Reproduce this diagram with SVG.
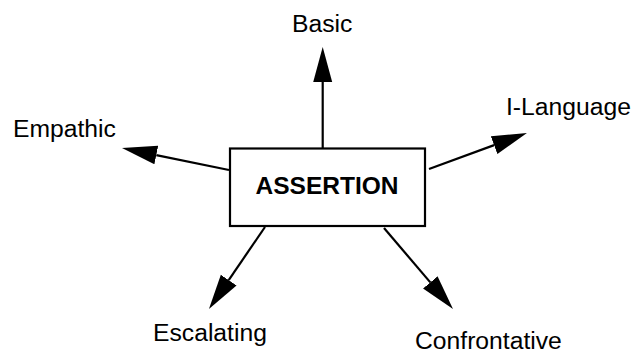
<svg xmlns="http://www.w3.org/2000/svg" width="633" height="352" viewBox="0 0 633 352">
<defs>
<marker id="ah" markerUnits="userSpaceOnUse" markerWidth="36" markerHeight="20" viewBox="0 -10 36 20" refX="0" refY="0" orient="auto">
<path d="M0,-9.5 L35,0 L0,9.5 Z" fill="#000"/>
</marker>
</defs>
<style>
.lbl{font-family:"Liberation Sans",Arial,sans-serif;font-size:24.7px;fill:#000}
.main{font-family:"Liberation Sans",Arial,sans-serif;font-size:24.5px;font-weight:bold;fill:#000}
.edge{stroke:#000;stroke-width:2.2;fill:none;marker-end:url(#ah)}
</style>
<rect width="633" height="352" fill="#fff"/>
<g id="connectors">
<line class="edge" x1="322.7" y1="148" x2="322.7" y2="82"/>
<line class="edge" x1="229" y1="170" x2="156.3" y2="155.05"/>
<line class="edge" x1="429" y1="169" x2="494.1" y2="145.1"/>
<line class="edge" x1="265" y1="227" x2="228.7" y2="280.1"/>
<line class="edge" x1="384" y1="228" x2="430.3" y2="282.4"/>
</g>
<g id="assertion">
<rect x="230" y="148.5" width="195" height="77.5" fill="#fff" stroke="#000" stroke-width="2.2"/>
<text class="main" x="327" y="194" text-anchor="middle">ASSERTION</text>
</g>
<g id="basic"><text class="lbl" x="292" y="32">Basic</text></g>
<g id="empathic"><text class="lbl" x="13" y="137">Empathic</text></g>
<g id="ilanguage"><text class="lbl" x="506" y="115">I-Language</text></g>
<g id="escalating"><text class="lbl" x="153" y="341">Escalating</text></g>
<g id="confrontative"><text class="lbl" x="415" y="349">Confrontative</text></g>
</svg>
